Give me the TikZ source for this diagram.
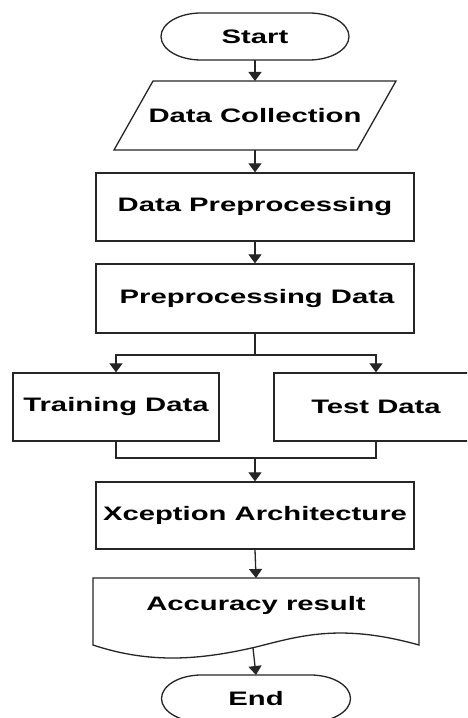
\documentclass[tikz,border=0pt]{standalone}
\usepackage{fontspec}
\usepackage{graphicx}
\setmainfont{Liberation Sans}
\usetikzlibrary{arrows.meta}

% bold sans label, widened horizontally
\newcommand{\flowlabel}[1]{\scalebox{1.5}[1]{\fontsize{19.5}{23}\selectfont\bfseries #1}}

\begin{document}
\begin{tikzpicture}[x=1pt,y=1pt,
  line/.style={draw=black!85, line width=1.3pt},
  flow/.style={line, -{Triangle[width=13pt,length=9pt]}},
  box/.style={line, rectangle, fill=white, inner sep=0pt},
  anchorbox/.style={rectangle, inner sep=0pt, outer sep=0pt},
  txt/.style={inner sep=0pt, text=black}]
\clip (0,0) rectangle (467,718);
\fill[white] (0,0) rectangle (467,718);

% terminator: flat top and bottom with elliptic ends
\node[anchorbox, minimum width=188pt, minimum height=47pt] (start) at (255,681.5) {};
\draw[line] ([xshift=40pt]start.north west) -- ([xshift=-40pt]start.north east)
  arc[start angle=90, end angle=-90, x radius=40pt, y radius=23.5pt]
  -- ([xshift=40pt]start.south west)
  arc[start angle=270, end angle=90, x radius=40pt, y radius=23.5pt] -- cycle;
\node[txt] (starttext) at (start.center) {\flowlabel{Start}};

% input parallelogram
\node[anchorbox, minimum width=243pt, minimum height=69pt] (dc) at (255,602.5) {};
\draw[line] ([xshift=-19.5pt]dc.south west) -- ([xshift=19.5pt]dc.north west)
  -- ([xshift=19.5pt]dc.north east) -- ([xshift=-19.5pt]dc.south east) -- cycle;
\node[txt] (dctext) at (dc.center) {\flowlabel{Data Collection}};

% processing boxes
\node[box, minimum width=318pt, minimum height=68pt] (dp) at (255,511) {\flowlabel{Data Preprocessing}};
\node[box, minimum width=318pt, minimum height=69pt] (pd) at (255,419.5) {\hspace{4pt}\flowlabel{Preprocessing Data}};
\node[box, minimum width=206pt, minimum height=68pt] (tr) at (116,311) {\flowlabel{Training Data}};
\node[box, minimum width=204pt, minimum height=68pt] (te) at (376,311) {\flowlabel{Test Data}};
\node[box, minimum width=318pt, minimum height=67pt] (xa) at (255,202.5) {\flowlabel{Xception Architecture}};

% document shape with wavy bottom
\node[anchorbox, minimum width=326pt, minimum height=67pt] (acc) at (256,106.5) {};
\draw[line] (acc.south west) -- (acc.north west) -- (acc.north east) -- (acc.south east)
  .. controls (340,95) and (300,82) .. (256,71)
  .. controls (200,58) and (150,54) .. (acc.south west) -- cycle;
\node[txt] (acctext) at (256,113) {\flowlabel{Accuracy result}};
\coordinate (accout) at (253,70);

% end terminator
\node[anchorbox, minimum width=189pt, minimum height=47pt] (end) at (256,19.5) {};
\draw[line] ([xshift=40pt]end.north west) -- ([xshift=-40pt]end.north east)
  arc[start angle=90, end angle=-90, x radius=40pt, y radius=23.5pt]
  -- ([xshift=40pt]end.south west)
  arc[start angle=270, end angle=90, x radius=40pt, y radius=23.5pt] -- cycle;
\node[txt] (endtext) at (end.center) {\flowlabel{End}};

% connectors
\draw[flow] (start.south) -- (dc.north);
\draw[flow] (dc.south) -- (dp.north);
\draw[flow] (dp.south) -- (pd.north);

% split
\coordinate (split) at (255,363);
\draw[line] (pd.south) -- (split);
\draw[flow] (split) -| (tr.north);
\draw[flow] (split) -| (te.north);

% merge
\coordinate (merge) at (255,260);
\draw[line] (tr.south) |- (merge);
\draw[line] (te.south) |- (merge);
\draw[flow] (merge) -- (xa.north);

\draw[flow] (xa.south) -- (acc.north);
\draw[flow] (accout) -- (end.north);
\end{tikzpicture}
\end{document}
